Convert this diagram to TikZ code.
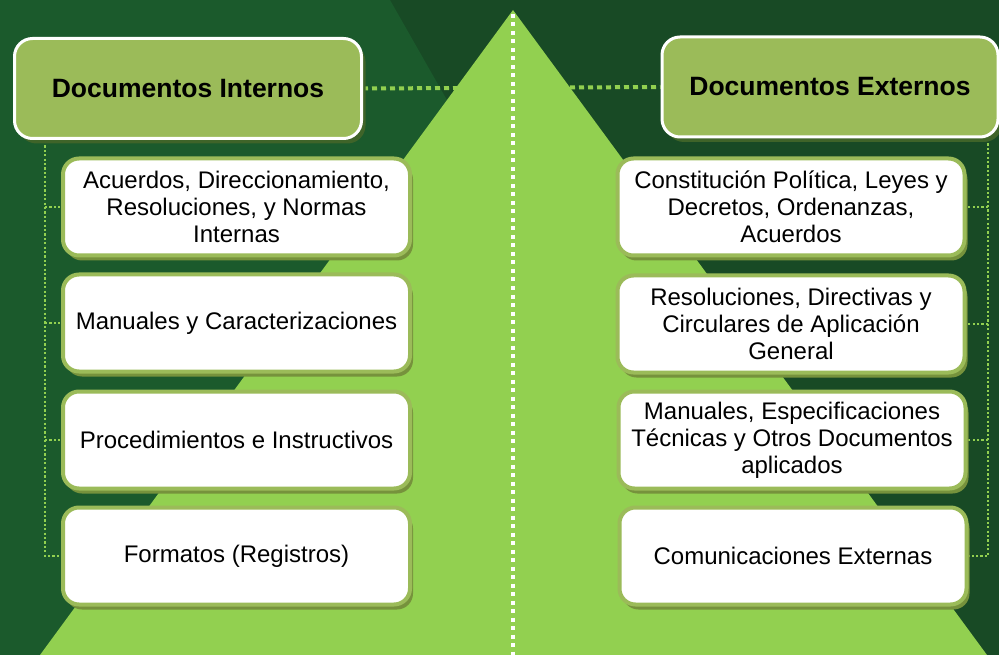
\documentclass[tikz,border=0pt]{standalone}
\usepackage{fontspec}
\setmainfont{Liberation Sans}
\usetikzlibrary{shadows}
\definecolor{leftbg}{HTML}{1B5A2C}
\definecolor{darkbg}{HTML}{184A25}
\definecolor{tri}{HTML}{92D050}
\definecolor{hdrfill}{HTML}{9BBB59}
\definecolor{hdrshadow}{HTML}{3F6429}
\definecolor{itemborder}{HTML}{9BBB59}
\definecolor{itemshadow}{HTML}{76923C}
\pgfdeclarelayer{back}
\pgfsetlayers{back,main}
\tikzset{
  hdr/.style={rounded corners=18pt, fill=hdrfill, draw=white, line width=3pt,
    minimum width=347pt, minimum height=100pt, inner sep=0pt,
    font=\fontsize{26.5}{30}\selectfont\bfseries, text=black,
    drop shadow={shadow xshift=4pt, shadow yshift=-5pt, fill=hdrshadow, opacity=1}},
  item/.style={rounded corners=16pt, fill=white, draw=itemborder, line width=4pt,
    minimum width=347pt, minimum height=97pt, inner sep=0pt, align=center,
    font=\fontsize{24}{27}\selectfont, text=black,
    drop shadow={shadow xshift=3pt, shadow yshift=-5pt, fill=itemshadow, opacity=1}},
  conn/.style={draw=tri, line width=2.2pt, dash pattern=on 2.2pt off 2.2pt},
  hconn/.style={draw=tri, line width=4pt, dash pattern=on 5pt off 4pt},
  cline/.style={draw=white, line width=4pt, dash pattern=on 4pt off 4.5pt}
}
\begin{document}
\begin{tikzpicture}[x=1pt,y=-1pt]
\useasboundingbox (0,0) rectangle (999,655);
% headers
\node[hdr] (hl) at (188,88.5) {Documentos Internos};
\node[hdr, minimum width=336pt] (hr) at (830,87) {Documentos Externos};
% left items
\node[item] (l1) at (236.5,207) {Acuerdos, Direccionamiento,\\Resoluciones, y Normas\\Internas};
\node[item] (l2) at (236.5,323) {Manuales y Caracterizaciones};
\node[item] (l3) at (236.5,440) {Procedimientos e Instructivos};
\node[item] (l4) at (236.5,556) {Formatos (Registros)};
% right items
\node[item] (r1) at (791,207) {Constitución Política, Leyes y\\Decretos, Ordenanzas,\\Acuerdos};
\node[item] (r2) at (791,324) {Resoluciones, Directivas y\\Circulares de Aplicación\\General};
\node[item] (r3) at (792,440) {Manuales, Especificaciones\\Técnicas y Otros Documentos\\aplicados};
\node[item] (r4) at (793,556) {Comunicaciones Externas};
\coordinate (lvtop) at (45,141);
\coordinate (rvtop) at (988,139);
\begin{pgfonlayer}{back}
  \fill[darkbg] (0,0) rectangle (999,655);
  \fill[leftbg] (0,0) -- (390,0) -- (763,655) -- (0,655) -- cycle;
  \draw[hconn] (hl.east) -- (hr.west);
  \fill[tri] (513,10) -- (987,655) -- (40,655) -- cycle;
  \draw[cline] (513,14) -- (513,655);
  % left tree
  \draw[conn] (lvtop) |- (l4.west);
  \draw[conn] (l1.west -| lvtop) -- (l1.west);
  \draw[conn] (l2.west -| lvtop) -- (l2.west);
  \draw[conn] (l3.west -| lvtop) -- (l3.west);
  % right tree
  \draw[conn] (rvtop) |- (r4.east);
  \draw[conn] (r1.east -| rvtop) -- (r1.east);
  \draw[conn] (r2.east -| rvtop) -- (r2.east);
  \draw[conn] (r3.east -| rvtop) -- (r3.east);
\end{pgfonlayer}
\end{tikzpicture}
\end{document}
